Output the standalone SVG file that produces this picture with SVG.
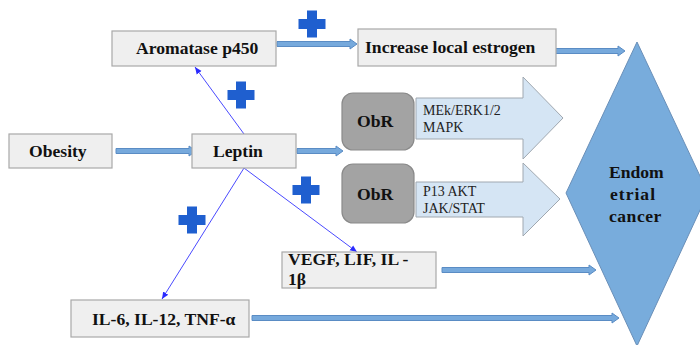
<svg xmlns="http://www.w3.org/2000/svg" width="700" height="345" viewBox="0 0 700 345" font-family="Liberation Serif, Times New Roman, serif">
<style>
.box{fill:#efefef;stroke:#a8a8a8;stroke-width:1.2}
.obr{fill:#a3a3a3;stroke:#8a8a8a;stroke-width:1.2}
.blk{fill:#d5e5f4;stroke:#a0a8b0;stroke-width:1}
.t{font-weight:bold;font-size:17.6px;fill:#111}
.s{font-size:14px;fill:#222}
.arr{fill:#76a9dc;stroke:#5a8cc4;stroke-width:1}
.thin{stroke:#4a4aff;stroke-width:1;fill:none;marker-end:url(#ah)}
.plus{fill:#1f5fcf}
</style>
<defs>
<marker id="ah" markerWidth="8" markerHeight="8" refX="7" refY="4" orient="auto" markerUnits="userSpaceOnUse">
<path d="M0,1 L7,4 L0,7 Z" fill="#2a2aff"/>
</marker>
<path id="pl" d="M-5,-13.5 H5 V-5 H13.5 V5 H5 V13.5 H-5 V5 H-13.5 V-5 H-5 Z"/>
</defs>

<g id="cancer">
<polygon points="637,42 708,193 637,346 566,193" fill="#78acdc" stroke="#6a8fb8" stroke-width="1"/>
<text class="t" x="609" y="178">Endom</text>
<text class="t" x="610" y="200" letter-spacing="1">etrial</text>
<text class="t" x="609" y="222" letter-spacing="0.5">cancer</text>
</g>

<g id="connectors">
<polygon class="arr" points="277,41.5 350,41.5 350,39 357,44 350,49 350,46.5 277,46.5"/>
<polygon class="arr" points="553,48.5 618,48.5 618,46 625,51 618,56 618,53.5 553,53.5"/>
<polygon class="arr" points="116,148.5 189,148.5 189,146 196,151 189,156 189,153.5 116,153.5"/>
<polygon class="arr" points="297,148.5 336,148.5 336,146 343,151 336,156 336,153.5 297,153.5"/>
<polygon class="arr" points="442,267.5 589,267.5 589,265 596,270 589,275 589,272.5 442,272.5"/>
<polygon class="arr" points="252,315.5 612,315.5 612,313 619,318 612,323 612,320.5 252,320.5"/>
<line class="thin" x1="244" y1="134" x2="195" y2="67"/>
<line class="thin" x1="244" y1="168" x2="357" y2="252"/>
<line class="thin" x1="244" y1="168" x2="162" y2="299"/>
</g>

<g id="plus-signs">
<use href="#pl" class="plus" x="312" y="24"/>
<use href="#pl" class="plus" x="241" y="95"/>
<use href="#pl" class="plus" x="306" y="190"/>
<use href="#pl" class="plus" x="192" y="220"/>
</g>

<g id="aromatase">
<rect class="box" x="112" y="31" width="164" height="35"/>
<text class="t" x="136" y="54">Aromatase p450</text>
</g>

<g id="estrogen">
<rect class="box" x="358" y="29" width="198" height="37"/>
<text class="t" x="365" y="53">Increase local estrogen</text>
</g>

<g id="obesity">
<rect class="box" x="9" y="134" width="103" height="34"/>
<text class="t" x="29" y="157">Obesity</text>
</g>

<g id="leptin">
<rect class="box" x="192" y="134" width="104" height="34"/>
<text class="t" x="213" y="157">Leptin</text>
</g>

<g id="obr1">
<rect class="obr" x="342" y="93" width="72" height="57" rx="11"/>
<text class="t" x="357" y="127">ObR</text>
</g>

<g id="mapk">
<polygon class="blk" points="416,98 523,98 523,77 563,118 523,159 523,139 416,139"/>
<text class="s" x="423" y="115">MEk/ERK1/2</text>
<text class="s" x="423" y="132">MAPK</text>
</g>

<g id="obr2">
<rect class="obr" x="342" y="164" width="72" height="59" rx="11"/>
<text class="t" x="357" y="200">ObR</text>
</g>

<g id="akt">
<polygon class="blk" points="416,182 523,182 523,163 560,199 523,236 523,217 416,217"/>
<text class="s" x="423" y="196">P13 AKT</text>
<text class="s" x="423" y="213">JAK/STAT</text>
</g>

<g id="vegf">
<rect class="box" x="282" y="252" width="154" height="36"/>
<text class="t" x="288" y="265">VEGF, LIF, IL -</text>
<text class="t" x="288" y="285">1β</text>
</g>

<g id="il6">
<rect class="box" x="71" y="300" width="178" height="37"/>
<text class="t" x="92" y="325">IL-6, IL-12, TNF-α</text>
</g>
</svg>
